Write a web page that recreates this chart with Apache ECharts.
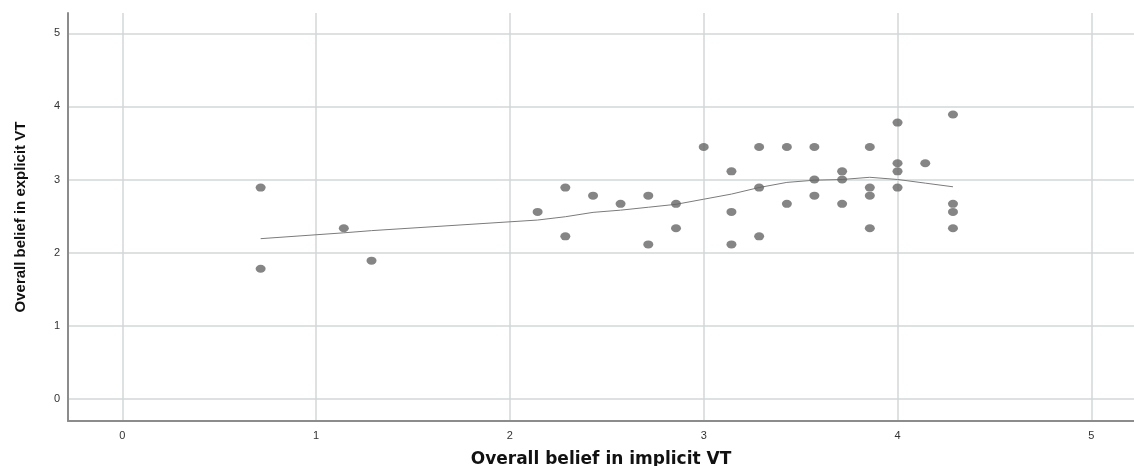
<!DOCTYPE html>
<html>
<head>
<meta charset="utf-8">
<script src="https://cdn.jsdelivr.net/npm/echarts@6/dist/echarts.min.js"></script>
<style>html,body{margin:0;padding:0;background:#fff}#c{width:1134px;height:466px}</style>
</head>
<body>
<div id="c"></div>
<script>
// Implicit VT (x) and explicit VT (y) of each respondent
const implicitVT = [0.714, 0.714, 1.143, 1.286, 2.143, 2.286, 2.286, 2.429, 2.571, 2.714, 2.714, 2.857, 2.857,
  3.0, 3.143, 3.143, 3.143, 3.286, 3.286, 3.286, 3.429, 3.429, 3.571, 3.571, 3.571, 3.714, 3.714, 3.714,
  3.857, 3.857, 3.857, 3.857, 4.0, 4.0, 4.0, 4.0, 4.143, 4.286, 4.286, 4.286, 4.286];
const explicitVT = [2.889, 1.778, 2.333, 1.889, 2.556, 2.889, 2.222, 2.778, 2.667, 2.778, 2.111, 2.667, 2.333,
  3.444, 3.111, 2.556, 2.111, 3.444, 2.889, 2.222, 3.444, 2.667, 3.444, 3.0, 2.778, 3.111, 3.0, 2.667,
  3.444, 2.889, 2.778, 2.333, 3.778, 3.222, 3.111, 2.889, 3.222, 3.889, 2.667, 2.556, 2.333];
// Fit line (loess)
const fitX = [0.714, 1.143, 1.286, 2.143, 2.286, 2.429, 2.571, 2.714, 2.857, 3.0, 3.143, 3.286, 3.429, 3.571, 3.714, 3.857, 4.0, 4.143, 4.286];
const fitY = [2.19, 2.27, 2.30, 2.445, 2.49, 2.55, 2.58, 2.62, 2.66, 2.73, 2.80, 2.89, 2.96, 2.99, 3.00, 3.03, 3.00, 2.95, 2.90];
const tickValues = [0, 1, 2, 3, 4, 5];

const points = implicitVT.map((x, i) => [x, explicitVT[i]]);
const fit = fitX.map((x, i) => [x, fitY[i]]);

const chart = echarts.init(document.getElementById('c'), null, {renderer: 'canvas'});
const gridLine = {show: true, lineStyle: {color: '#d2d7d7', width: 1.5}};
chart.setOption({
  animation: false,
  grid: {left: 68, right: 0, top: 13, bottom: 45, containLabel: false, outerBoundsMode: 'none'},
  xAxis: {
    type: 'value', min: -0.28, max: 5.22,
    name: 'Overall belief in implicit VT', nameLocation: 'middle', nameGap: 30,
    nameTextStyle: {fontFamily: 'DejaVu Sans', fontWeight: 'bold', fontSize: 17, color: '#111'},
    axisLine: {show: true, onZero: false, lineStyle: {color: '#8c8c8c', width: 2}},
    axisTick: {show: false, customValues: tickValues},
    splitLine: gridLine,
    axisLabel: {margin: 9, fontFamily: 'Liberation Sans', fontSize: 11, color: '#333', customValues: tickValues}
  },
  yAxis: {
    type: 'value', min: -0.305, max: 5.278,
    name: 'Overall belief in explicit VT', nameLocation: 'middle', nameGap: 40,
    nameTextStyle: {fontFamily: "'Liberation Sans Narrow', 'Liberation Sans'", fontWeight: 'bold', fontSize: 15, color: '#111'},
    axisLine: {show: true, onZero: false, lineStyle: {color: '#8c8c8c', width: 2}},
    axisTick: {show: false, customValues: tickValues},
    splitLine: gridLine,
    axisLabel: {margin: 8, fontFamily: 'Liberation Sans', fontSize: 11, color: '#333', customValues: tickValues}
  },
  series: [
    {
      type: 'line', data: fit, showSymbol: false, symbol: 'none',
      lineStyle: {color: '#7b7b7b', width: 1}, z: 2, silent: true
    },
    {
      type: 'scatter', data: points, symbol: 'circle', symbolSize: [10, 8],
      itemStyle: {color: '#666666'}, z: 3
    }
  ]
});
</script>
</body>
</html>
